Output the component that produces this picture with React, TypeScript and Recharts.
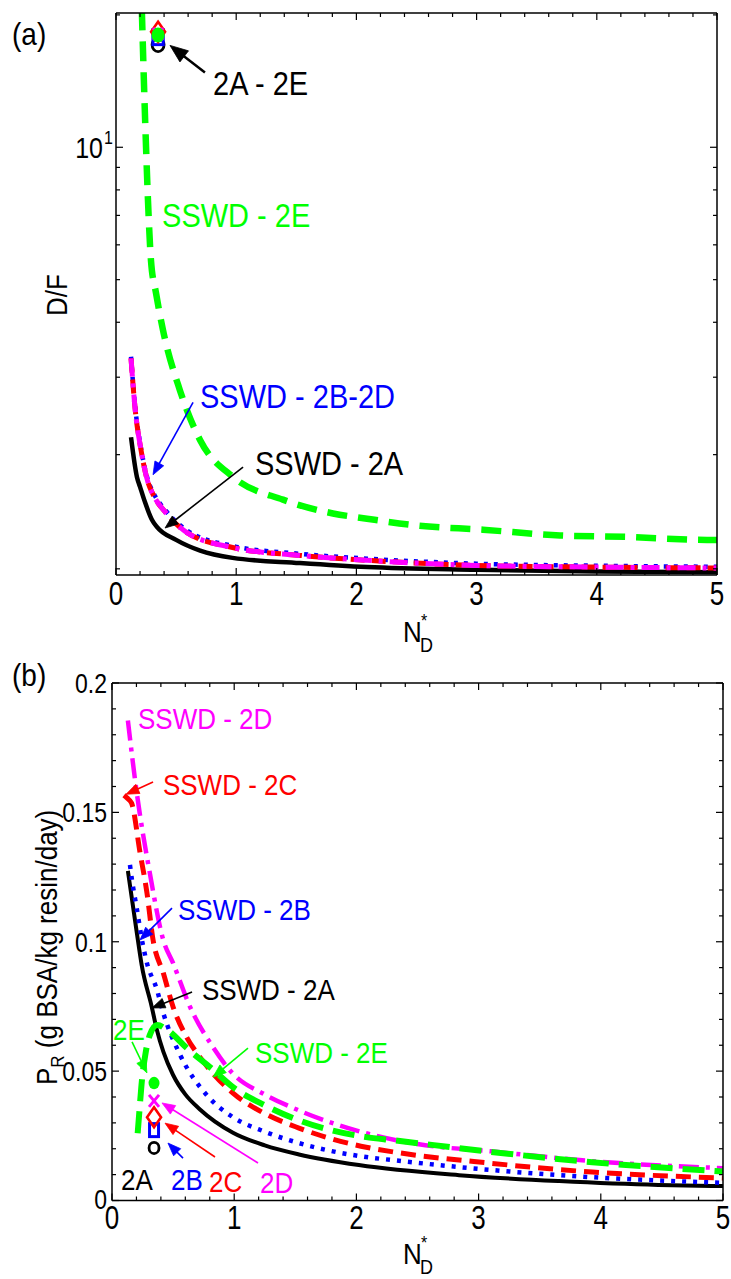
import React from 'react';
import { ComposedChart, Line, XAxis, YAxis, ReferenceDot, ReferenceLine } from 'recharts';

const FONT = '"Liberation Sans", Arial, Helvetica, sans-serif';
const BLACK = '#000000';
const BLUE = '#0000ff';
const RED = '#ff0000';
const MAGENTA = '#ff00ff';
const GREEN = '#00ff00';

// ---- ticks ----
const xTicks = [0, 0.2, 0.4, 0.6, 0.8, 1, 1.2, 1.4, 1.6, 1.8, 2, 2.2, 2.4, 2.6, 2.8, 3, 3.2, 3.4, 3.6, 3.8, 4, 4.2, 4.4, 4.6, 4.8, 5];
const dfTicks = [1.1, 2, 3, 4, 5, 6, 7, 8, 9, 10, 20];
const prTicks = [0, 0.01, 0.02, 0.03, 0.04, 0.05, 0.06, 0.07, 0.08, 0.09, 0.1, 0.11, 0.12, 0.13, 0.14, 0.15, 0.16, 0.17, 0.18, 0.19, 0.2];

// ---- panel (a): D/F vs N_D* ----
const nA_2A = [0.125, 0.174, 0.2, 0.241, 0.3, 0.34, 0.5, 0.7, 0.97, 1.53, 2.09, 3, 4, 5];
const dfA_2A = [2.19, 1.78, 1.69, 1.56, 1.42, 1.37, 1.28, 1.21, 1.165, 1.134, 1.11, 1.095, 1.085, 1.08];
const nA_2BD = [0.125, 0.158, 0.208, 0.266, 0.31, 0.42, 0.59, 0.97, 1.53, 2.09, 3, 4, 5];
const dfA_2B = [3.34, 2.59, 2.07, 1.75, 1.64, 1.485, 1.345, 1.24, 1.19, 1.16, 1.13, 1.118, 1.112];
const dfA_2C = [3.31, 2.56, 2.05, 1.73, 1.62, 1.47, 1.33, 1.23, 1.18, 1.15, 1.12, 1.11, 1.105];
const dfA_2D = [3.31, 2.56, 2.05, 1.73, 1.62, 1.47, 1.33, 1.23, 1.18, 1.15, 1.12, 1.11, 1.105];
const nA_2E = [0.215, 0.237, 0.25, 0.266, 0.291, 0.333, 0.391, 0.532, 0.699, 0.973, 1.389, 1.805, 2.088, 2.504, 3.053, 3.694, 4.251, 4.917, 5];
const dfA_2E = [20.5, 12.8, 10, 7.58, 5.53, 4.66, 3.84, 2.8, 2.16, 1.78, 1.58, 1.47, 1.43, 1.38, 1.35, 1.31, 1.3, 1.28, 1.28];
// single design points (2A..2E)
const nPtA = 0.35;
const dfPtA = { A: 17.1, B: 17.8, C: 18.3, D: 18.1, E: 18.0 };

// ---- panel (b): P_R vs N_D* ----
const nB_2A = [0.13, 0.2, 0.243, 0.325, 0.366, 0.42, 0.5, 0.6, 0.72, 0.99, 1.25, 1.53, 2.02, 2.84, 3.66, 4.47, 5];
const prB_2A = [0.1274, 0.1045, 0.091, 0.0749, 0.0662, 0.0575, 0.0485, 0.041, 0.0352, 0.0262, 0.0213, 0.0178, 0.0137, 0.0098, 0.0075, 0.006, 0.0056];
const nB_2B = [0.147, 0.163, 0.2, 0.256, 0.286, 0.368, 0.42, 0.55, 0.78, 0.99, 1.25, 1.53, 2.08, 2.3, 3.1, 3.93, 5];
const prB_2B = [0.1297, 0.124, 0.1136, 0.098, 0.0918, 0.0814, 0.0724, 0.057, 0.0405, 0.0322, 0.0266, 0.0222, 0.0168, 0.0156, 0.0118, 0.009, 0.0068];
const nB_2C = [0.098, 0.125, 0.16, 0.23, 0.286, 0.336, 0.42, 0.5, 0.61, 0.72, 0.99, 1.25, 1.53, 2.08, 2.3, 3.1, 3.93, 5];
const prB_2C = [0.1566, 0.1555, 0.1536, 0.1343, 0.1189, 0.1007, 0.0879, 0.0748, 0.0632, 0.0554, 0.0415, 0.0336, 0.028, 0.0206, 0.0188, 0.0144, 0.011, 0.0087];
const nB_2D = [0.13, 0.2, 0.31, 0.42, 0.5, 0.64, 0.83, 0.99, 1.25, 1.53, 2.08, 2.5, 3.1, 3.93, 5];
const prB_2D = [0.1855, 0.1585, 0.1264, 0.1006, 0.0917, 0.0747, 0.059, 0.049, 0.041, 0.0348, 0.026, 0.0218, 0.019, 0.0152, 0.0125];
const nB_2E = [0.21, 0.225, 0.245, 0.275, 0.31, 0.37, 0.45, 0.61, 0.83, 0.99, 1.25, 1.53, 2.08, 2.3, 3.1, 3.93, 5];
const prB_2E = [0.026, 0.035, 0.0465, 0.057, 0.064, 0.0678, 0.066, 0.059, 0.0504, 0.0438, 0.0368, 0.031, 0.0245, 0.0233, 0.0188, 0.0148, 0.0112];
const nPtB = 0.344;
const prPtB = { A: 0.0203, B: 0.0272, C: 0.0322, D: 0.0385, E: 0.0454 };

// ---- annotations [text, x, y, color] ----
const notesA: [string, number, number, string][] = [
  ['2A - 2E', 0.807, 13.13, BLACK],
  ['SSWD - 2E', 0.383, 6.58, GREEN],
  ['SSWD - 2B-2D', 0.699, 2.55, BLUE],
  ['SSWD - 2A', 1.156, 1.797, BLACK],
];
const arrowsA: [number, number, number, number, string, number][] = [
  [0.74, 14.8, 0.449, 17.05, BLACK, 2.5],
  [0.641, 2.63, 0.308, 1.8, BLUE, 1.6],
  [1.057, 1.874, 0.408, 1.362, BLACK, 1.6],
];
const notesB: [string, number, number, string][] = [
  ['SSWD - 2D', 0.213, 0.1822, MAGENTA],
  ['SSWD - 2C', 0.417, 0.1567, RED],
  ['SSWD - 2B', 0.54, 0.1084, BLUE],
  ['SSWD - 2A', 0.736, 0.0775, BLACK],
  ['SSWD - 2E', 1.17, 0.0531, GREEN],
  ['2E', 0.008, 0.062, GREEN],
  ['2A', 0.074, 0.0041, BLACK],
  ['2B', 0.483, 0.0041, BLUE],
  ['2C', 0.794, 0.0033, RED],
  ['2D', 1.211, 0.0029, MAGENTA],
];
const arrowsB: [number, number, number, number, string, number][] = [
  [0.336, 0.1617, 0.115, 0.157, RED, 1.6],
  [0.491, 0.113, 0.229, 0.1007, BLUE, 1.6],
  [0.655, 0.0806, 0.327, 0.0744, BLACK, 1.6],
  [1.113, 0.0589, 0.827, 0.0477, GREEN, 1.6],
  [0.164, 0.0613, 0.286, 0.0493, GREEN, 1.6],
  [0.581, 0.0164, 0.458, 0.0222, BLUE, 1.6],
  [0.843, 0.0168, 0.434, 0.0299, RED, 1.6],
  [1.195, 0.0145, 0.409, 0.0377, MAGENTA, 1.6],
];

const pts = (xs: number[], ys: number[]) => xs.map((x, i) => ({ x, y: ys[i] }));

// stretched text (the original font is tall and narrow)
const SText = ({ x, y, size, sy = 1.15, anchor = 'start', fill = BLACK, rotate = 0, children }: any) => (
  <text
    transform={`translate(${x},${y})${rotate ? ` rotate(${rotate})` : ''} scale(1,${sy})`}
    fontSize={size}
    fontFamily={FONT}
    textAnchor={anchor}
    fill={fill}
  >
    {children}
  </text>
);

const isInt = (v: number) => Math.abs(v - Math.round(v)) < 1e-6;

const xTickBottom = (labelDy: number) => (p: any) => {
  const v = p.payload.value;
  const major = isInt(v);
  return (
    <g>
      <line x1={p.x} y1={p.y} x2={p.x} y2={p.y - (major ? 7 : 4)} stroke={BLACK} strokeWidth={1.2} />
      {major && (
        <SText x={p.x} y={p.y + labelDy} size={26} sy={1.25} anchor="middle">
          {String(Math.round(v))}
        </SText>
      )}
    </g>
  );
};

const xTickTop = (p: any) => {
  const major = isInt(p.payload.value);
  return <line x1={p.x} y1={p.y} x2={p.x} y2={p.y + (major ? 7 : 4)} stroke={BLACK} strokeWidth={1.2} />;
};

const dfTickLeft = (p: any) => {
  const v = p.payload.value;
  const major = v === 10;
  return (
    <g>
      <line x1={p.x} y1={p.y} x2={p.x + (major ? 7 : 4)} y2={p.y} stroke={BLACK} strokeWidth={1.2} />
      {major && (
        <g>
          <SText x={p.x - 13} y={p.y + 11} size={25} sy={1.15} anchor="end">10</SText>
          <SText x={p.x - 12} y={p.y - 3} size={16} sy={1.15}>1</SText>
        </g>
      )}
    </g>
  );
};

const dfTickRight = (p: any) => {
  const major = p.payload.value === 10;
  return <line x1={p.x} y1={p.y} x2={p.x - (major ? 7 : 4)} y2={p.y} stroke={BLACK} strokeWidth={1.2} />;
};

const isPrMajor = (v: number) => isInt(v / 0.05);

const prTickLeft = (p: any) => {
  const v = p.payload.value;
  const major = isPrMajor(v);
  return (
    <g>
      <line x1={p.x} y1={p.y} x2={p.x + (major ? 7 : 4)} y2={p.y} stroke={BLACK} strokeWidth={1.2} />
      {major && (
        <SText x={p.x - 5} y={p.y + (v === 0 ? 8 : 10)} size={23} sy={1.22} anchor="end">{String(v)}</SText>
      )}
    </g>
  );
};

const prTickRight = (p: any) => {
  const major = isPrMajor(p.payload.value);
  return <line x1={p.x} y1={p.y} x2={p.x - (major ? 7 : 4)} y2={p.y} stroke={BLACK} strokeWidth={1.2} />;
};

const noteShape = (text: string, color: string, size: number) => (p: any) => (
  <SText x={p.cx} y={p.cy} size={size} sy={1.15} fill={color}>{text}</SText>
);

const arrowShape = (color: string, w: number, L: number, W: number) => (p: any) => {
  const { x1, y1, x2, y2 } = p;
  const a = Math.atan2(y2 - y1, x2 - x1);
  const bx = x2 - L * Math.cos(a);
  const by = y2 - L * Math.sin(a);
  const s = Math.sin(a);
  const c = Math.cos(a);
  const poly = `${x2},${y2} ${bx + W * s},${by - W * c} ${bx - W * s},${by + W * c}`;
  return (
    <g>
      <line x1={x1} y1={y1} x2={bx + 2 * c} y2={by + 2 * s} stroke={color} strokeWidth={w} />
      <polygon points={poly} fill={color} stroke={color} strokeWidth={0.8} />
    </g>
  );
};

const marker = (kind: string, color: string, k: number) => (p: any) => {
  const { cx, cy } = p;
  if (kind === 'o') return <ellipse cx={cx} cy={cy} rx={5 * k} ry={5.6 * k} fill="none" stroke={color} strokeWidth={2.8} />;
  if (kind === 's') return <rect x={cx - 4.5 * k} y={cy - 6.5 * k} width={9 * k} height={13 * k} fill="none" stroke={color} strokeWidth={3} />;
  if (kind === 'd')
    return (
      <polygon
        points={`${cx},${cy - 10 * k} ${cx + 7 * k},${cy} ${cx},${cy + 10 * k} ${cx - 7 * k},${cy}`}
        fill="none"
        stroke={color}
        strokeWidth={2.6}
      />
    );
  if (kind === 'x')
    return (
      <g stroke={color} strokeWidth={3}>
        <line x1={cx - 5 * k} y1={cy - 6 * k} x2={cx + 5 * k} y2={cy + 6 * k} />
        <line x1={cx - 5 * k} y1={cy + 6 * k} x2={cx + 5 * k} y2={cy - 6 * k} />
      </g>
    );
  return <ellipse cx={cx} cy={cy} rx={5.5 * k} ry={6.2 * k} fill={color} />;
};

const axisLine = { stroke: BLACK, strokeWidth: 1.5 };

// plot area of (a): left 116, top 13, right 717, bottom 575
const PanelA = () => (
  <ComposedChart width={731} height={656} margin={{ top: 3, left: 36, right: 4, bottom: 41 }}>
    <XAxis xAxisId="x" type="number" dataKey="x" domain={[0, 5]} ticks={xTicks} allowDataOverflow interval={0}
      height={40} tickSize={0} tickMargin={0} tickLine={false} axisLine={axisLine} tick={xTickBottom(30)} />
    <XAxis xAxisId="t" orientation="top" type="number" dataKey="x" domain={[0, 5]} ticks={xTicks} allowDataOverflow interval={0}
      height={10} tickSize={0} tickMargin={0} tickLine={false} axisLine={axisLine} tick={xTickTop} />
    <YAxis yAxisId="y" type="number" scale="log" domain={[1.065, 20.2]} ticks={dfTicks} allowDataOverflow interval={0}
      width={80} tickSize={0} tickMargin={0} tickLine={false} axisLine={axisLine} tick={dfTickLeft} />
    <YAxis yAxisId="r" orientation="right" type="number" scale="log" domain={[1.065, 20.2]} ticks={dfTicks} allowDataOverflow interval={0}
      width={10} tickSize={0} tickMargin={0} tickLine={false} axisLine={axisLine} tick={dfTickRight} />

    <Line xAxisId="x" yAxisId="y" data={pts(nA_2A, dfA_2A)} dataKey="y" type="monotone" stroke={BLACK} strokeWidth={4.5} dot={false} isAnimationActive={false} />
    <Line xAxisId="x" yAxisId="y" data={pts(nA_2BD, dfA_2B)} dataKey="y" type="monotone" stroke={BLUE} strokeWidth={4.5} strokeDasharray="4 6" dot={false} isAnimationActive={false} />
    <Line xAxisId="x" yAxisId="y" data={pts(nA_2BD, dfA_2C)} dataKey="y" type="monotone" stroke={RED} strokeWidth={5} strokeDasharray="14 7" dot={false} isAnimationActive={false} />
    <Line xAxisId="x" yAxisId="y" data={pts(nA_2BD, dfA_2D)} dataKey="y" type="monotone" stroke={MAGENTA} strokeWidth={5} strokeDasharray="18 7 4 7" dot={false} isAnimationActive={false} />
    <Line xAxisId="x" yAxisId="y" data={pts(nA_2E, dfA_2E)} dataKey="y" type="monotone" stroke={GREEN} strokeWidth={6.5} strokeDasharray="20 11" dot={false} isAnimationActive={false} />

    <ReferenceDot xAxisId="x" yAxisId="y" x={nPtA} y={dfPtA.A} ifOverflow="visible" shape={marker('o', BLACK, 1.2)} />
    <ReferenceDot xAxisId="x" yAxisId="y" x={nPtA} y={dfPtA.B} ifOverflow="visible" shape={marker('s', BLUE, 1.15)} />
    <ReferenceDot xAxisId="x" yAxisId="y" x={nPtA} y={dfPtA.C} ifOverflow="visible" shape={marker('d', RED, 1.0)} />
    <ReferenceDot xAxisId="x" yAxisId="y" x={nPtA} y={dfPtA.D} ifOverflow="visible" shape={marker('x', MAGENTA, 1.0)} />
    <ReferenceDot xAxisId="x" yAxisId="y" x={nPtA} y={dfPtA.E} ifOverflow="visible" shape={marker('f', GREEN, 1.2)} />

    {arrowsA.map((a, i) => (
      <ReferenceLine key={`aa${i}`} xAxisId="x" yAxisId="y" ifOverflow="visible"
        segment={[{ x: a[0], y: a[1] }, { x: a[2], y: a[3] }]} shape={arrowShape(a[4], a[5], i === 0 ? 18 : 13, i === 0 ? 7 : 5)} />
    ))}
    {notesA.map((n, i) => (
      <ReferenceDot key={`na${i}`} xAxisId="x" yAxisId="y" x={n[1]} y={n[2]} ifOverflow="visible" shape={noteShape(n[0], n[3], 29)} />
    ))}
  </ComposedChart>
);

// plot area of (b): left 112, top 683, right 723, bottom 1200.5 (page coords)
const PanelB = () => (
  <ComposedChart width={731} height={623} margin={{ top: 17, left: 32, right: 0, bottom: 38.5 }}>
    <XAxis xAxisId="x" type="number" dataKey="x" domain={[0, 5]} ticks={xTicks} allowDataOverflow interval={0}
      height={40} tickSize={0} tickMargin={0} tickLine={false} axisLine={axisLine} tick={xTickBottom(28)} />
    <XAxis xAxisId="t" orientation="top" type="number" dataKey="x" domain={[0, 5]} ticks={xTicks} allowDataOverflow interval={0}
      height={10} tickSize={0} tickMargin={0} tickLine={false} axisLine={axisLine} tick={xTickTop} />
    <YAxis yAxisId="y" type="number" domain={[0, 0.2]} ticks={prTicks} allowDataOverflow interval={0}
      width={80} tickSize={0} tickMargin={0} tickLine={false} axisLine={axisLine} tick={prTickLeft} />
    <YAxis yAxisId="r" orientation="right" type="number" domain={[0, 0.2]} ticks={prTicks} allowDataOverflow interval={0}
      width={8} tickSize={0} tickMargin={0} tickLine={false} axisLine={axisLine} tick={prTickRight} />

    <Line xAxisId="x" yAxisId="y" data={pts(nB_2A, prB_2A)} dataKey="y" type="monotone" stroke={BLACK} strokeWidth={4} dot={false} isAnimationActive={false} />
    <Line xAxisId="x" yAxisId="y" data={pts(nB_2B, prB_2B)} dataKey="y" type="monotone" stroke={BLUE} strokeWidth={4.5} strokeDasharray="4 7" dot={false} isAnimationActive={false} />
    <Line xAxisId="x" yAxisId="y" data={pts(nB_2C, prB_2C)} dataKey="y" type="monotone" stroke={RED} strokeWidth={5} strokeDasharray="15 8" dot={false} isAnimationActive={false} />
    <Line xAxisId="x" yAxisId="y" data={pts(nB_2D, prB_2D)} dataKey="y" type="monotone" stroke={MAGENTA} strokeWidth={4.5} strokeDasharray="20 7 4 7" dot={false} isAnimationActive={false} />
    <Line xAxisId="x" yAxisId="y" data={pts(nB_2E, prB_2E)} dataKey="y" type="monotone" stroke={GREEN} strokeWidth={6} strokeDasharray="22 10" dot={false} isAnimationActive={false} />

    <ReferenceDot xAxisId="x" yAxisId="y" x={nPtB} y={prPtB.A} ifOverflow="visible" shape={marker('o', BLACK, 1)} />
    <ReferenceDot xAxisId="x" yAxisId="y" x={nPtB} y={prPtB.B} ifOverflow="visible" shape={marker('s', BLUE, 1)} />
    <ReferenceDot xAxisId="x" yAxisId="y" x={nPtB} y={prPtB.C} ifOverflow="visible" shape={marker('d', RED, 1)} />
    <ReferenceDot xAxisId="x" yAxisId="y" x={nPtB} y={prPtB.D} ifOverflow="visible" shape={marker('x', MAGENTA, 1)} />
    <ReferenceDot xAxisId="x" yAxisId="y" x={nPtB} y={prPtB.E} ifOverflow="visible" shape={marker('f', GREEN, 1)} />

    {arrowsB.map((a, i) => (
      <ReferenceLine key={`ab${i}`} xAxisId="x" yAxisId="y" ifOverflow="visible"
        segment={[{ x: a[0], y: a[1] }, { x: a[2], y: a[3] }]} shape={arrowShape(a[4], a[5], 13, 5)} />
    ))}
    {notesB.map((n, i) => (
      <ReferenceDot key={`nb${i}`} xAxisId="x" yAxisId="y" x={n[1]} y={n[2]} ifOverflow="visible" shape={noteShape(n[0], n[3], 26)} />
    ))}
  </ComposedChart>
);

const XTitle = ({ dy }: { dy: number }) => (
  <g>
    <SText x={403} y={642 + dy} size={26} sy={1.1}>N</SText>
    <SText x={421} y={627 + dy} size={16} sy={1.1}>*</SText>
    <SText x={420} y={652 + dy} size={18} sy={1.1}>D</SText>
  </g>
);

export default function App() {
  return (
    <div style={{ position: 'absolute', left: 0, top: 0, width: 731, height: 1279, background: '#fff' }}>
      <div style={{ position: 'absolute', left: 0, top: 0 }}>
        <PanelA />
      </div>
      <div style={{ position: 'absolute', left: 0, top: 656 }}>
        <PanelB />
      </div>
      <svg width={731} height={1279} style={{ position: 'absolute', left: 0, top: 0, pointerEvents: 'none' }}>
        <SText x={12} y={45} size={28} sy={1.15}>(a)</SText>
        <SText x={12} y={686} size={28} sy={1.15}>(b)</SText>
        <SText x={67} y={295} size={26} sy={1.1} rotate={-90} anchor="middle">D/F</SText>
        <text transform="translate(57,1085) rotate(-90) scale(1,1.1)" fontSize={26} fontFamily={FONT} fill={BLACK}>
          P<tspan fontSize={17} dy={6}>R</tspan>
          <tspan dy={-6}> (g BSA/kg resin/day)</tspan>
        </text>
        <XTitle dy={0} />
        <XTitle dy={622} />
      </svg>
    </div>
  );
}
